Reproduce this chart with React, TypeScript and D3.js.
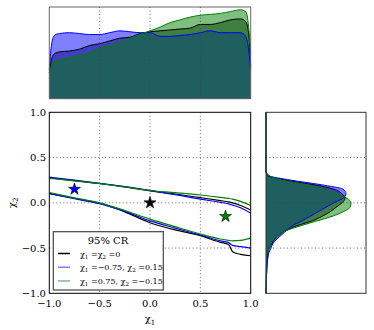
import * as d3 from "d3";

// top marginal: density of chi1 for each prior case
const xGrid = [-1, -0.98, -0.95, -0.9, -0.8, -0.7, -0.6, -0.5, -0.4, -0.3, -0.2, -0.1, 0, 0.1, 0.2, 0.3, 0.4, 0.5, 0.6, 0.7, 0.8, 0.9, 0.95, 0.98, 1];
const topBlack = [0.28, 0.42, 0.49, 0.51, 0.52, 0.54, 0.58, 0.6, 0.63, 0.66, 0.67, 0.71, 0.73, 0.74, 0.75, 0.76, 0.77, 0.81, 0.81, 0.83, 0.86, 0.87, 0.84, 0.71, 0.35];
const topBlue = [0.31, 0.57, 0.69, 0.71, 0.72, 0.71, 0.7, 0.7, 0.72, 0.74, 0.73, 0.72, 0.72, 0.68, 0.68, 0.69, 0.7, 0.72, 0.74, 0.72, 0.72, 0.72, 0.68, 0.53, 0.31];
const topGreen = [0.22, 0.35, 0.41, 0.42, 0.45, 0.47, 0.5, 0.55, 0.58, 0.61, 0.66, 0.7, 0.74, 0.78, 0.83, 0.86, 0.89, 0.91, 0.92, 0.93, 0.95, 0.97, 0.95, 0.78, 0.49];

// right marginal: density of chi2
const yGrid = [1, 0.35, 0.3, 0.25, 0.2, 0.15, 0.1, 0.05, 0, -0.05, -0.1, -0.15, -0.2, -0.25, -0.3, -0.35, -0.4, -0.45, -0.5, -0.55, -0.6, -0.7, -0.8, -1];
const sideBlack = [0, 0, 0.02, 0.2, 0.48, 0.68, 0.76, 0.79, 0.76, 0.7, 0.64, 0.56, 0.46, 0.32, 0.21, 0.14, 0.09, 0.06, 0.03, 0.02, 0.015, 0.01, 0.005, 0];
const sideBlue = [0, 0, 0.03, 0.25, 0.55, 0.77, 0.8, 0.77, 0.68, 0.6, 0.52, 0.44, 0.36, 0.27, 0.21, 0.16, 0.11, 0.07, 0.05, 0.03, 0.02, 0.01, 0.005, 0];
const sideGreen = [0, 0, 0.03, 0.16, 0.39, 0.59, 0.71, 0.81, 0.85, 0.84, 0.77, 0.66, 0.51, 0.36, 0.22, 0.14, 0.08, 0.05, 0.03, 0.013, 0.007, 0.003, 0, 0];

// 95% credible region boundaries (upper and lower edge)
const crX = [-1, -0.75, -0.5, -0.25, 0, 0.25, 0.5, 0.7, 0.78, 0.82, 0.9, 1];
const upBlack = [0.275, 0.245, 0.213, 0.175, 0.132, 0.097, 0.057, 0.024, 0.01, 0.0, -0.03, -0.08];
const upBlue = [0.283, 0.25, 0.215, 0.178, 0.137, 0.09, 0.04, 0.005, -0.012, -0.025, -0.055, -0.116];
const upGreen = [0.27, 0.242, 0.212, 0.175, 0.136, 0.112, 0.086, 0.06, 0.048, 0.04, 0.015, -0.03];
const loBlack = [0.105, 0.05, -0.005, -0.1, -0.22, -0.3, -0.363, -0.437, -0.46, -0.54, -0.57, -0.585];
const loBlue = [0.1, 0.045, -0.01, -0.095, -0.2, -0.28, -0.356, -0.42, -0.44, -0.47, -0.485, -0.5];
const loGreen = [0.114, 0.055, 0.0, -0.085, -0.18, -0.264, -0.345, -0.4, -0.415, -0.42, -0.415, -0.39];

// injected values (stars)
const stars = [
  { x: -0.75, y: 0.15, color: "#0000ff" },
  { x: 0, y: 0, color: "#000000" },
  { x: 0.75, y: -0.15, color: "#008000" },
];

const ticks = [-1, -0.5, 0, 0.5, 1];
const tickLabels = ["\u22121.0", "\u22120.5", "0.0", "0.5", "1.0"];
const gridTicks = [-0.5, 0, 0.5];

type Part = [string, boolean];
const legendItems: { color: string; parts: Part[] }[] = [
  { color: "#000000", parts: [["\u03c7", false], ["1", true], [" =\u03c7", false], ["2", true], [" =0", false]] },
  { color: "#8080ff", parts: [["\u03c7", false], ["1", true], [" =\u22120.75, \u03c7", false], ["2", true], [" =0.15", false]] },
  { color: "#80c080", parts: [["\u03c7", false], ["1", true], [" =0.75, \u03c7", false], ["2", true], [" =\u22120.15", false]] },
];

const FONT = "DejaVu Serif";
const GRID = { stroke: "#444", strokeWidth: 0.8, strokeDasharray: "1 2.5" };

const Mixed = ({ parts, size }: { parts: Part[]; size: number }) => (
  <>
    {parts.map(([t, sub], i) => {
      const prevSub = i > 0 && parts[i - 1][1];
      const dy = sub ? size * 0.25 : prevSub ? -size * 0.25 : 0;
      return (
        <tspan key={i} dy={dy} fontSize={sub ? size * 0.7 : size}>
          {t}
        </tspan>
      );
    })}
  </>
);

export default function App() {
  const L = 49.3, R = 250.7, T = 112.3, B = 293.3;
  const x = d3.scaleLinear().domain([-1, 1]).range([L, R]);
  const y = d3.scaleLinear().domain([-1, 1]).range([B, T]);
  const topY = d3.scaleLinear().domain([0, 1]).range([98.7, 7]);
  const sideX = d3.scaleLinear().domain([0, 1]).range([266, 366]);

  const topArea = (vals: number[]) =>
    d3.area<number>().x((_, i) => x(xGrid[i])).y0(topY(0)).y1((d) => topY(d)).curve(d3.curveMonotoneX)(vals) || "";
  const topLine = (vals: number[]) =>
    d3.line<number>().x((_, i) => x(xGrid[i])).y((d) => topY(d)).curve(d3.curveMonotoneX)(vals) || "";
  const sideArea = (vals: number[]) =>
    d3.area<number>().y((_, i) => y(yGrid[i])).x0(sideX(0)).x1((d) => sideX(d)).curve(d3.curveMonotoneY)(vals) || "";
  const sideLine = (vals: number[]) =>
    d3.line<number>().y((_, i) => y(yGrid[i])).x((d) => sideX(d)).curve(d3.curveMonotoneY)(vals) || "";
  const crLine = (vals: number[]) =>
    d3.line<number>().x((_, i) => x(crX[i])).y((d) => y(d)).curve(d3.curveMonotoneX)(vals) || "";

  const star = d3.symbol(d3.symbolStar, 44)() || "";

  const series = [
    { color: "#000000", top: topBlack, side: sideBlack, up: upBlack, lo: loBlack },
    { color: "#0000ff", top: topBlue, side: sideBlue, up: upBlue, lo: loBlue },
    { color: "#008000", top: topGreen, side: sideGreen, up: upGreen, lo: loGreen },
  ];

  return (
    <svg width={374} height={330} style={{ position: "absolute", left: 0, top: 0, background: "#fff" }} fontFamily={FONT}>
      <defs>
        <clipPath id="main">
          <rect x={L} y={T} width={R - L} height={B - T} />
        </clipPath>
      </defs>

      {/* top marginal */}
      <g>
        {series.map((s) => (
          <path key={s.color} d={topArea(s.top)} fill={s.color} fillOpacity={0.5} />
        ))}
        {series.map((s) => (
          <path key={s.color} d={topLine(s.top)} fill="none" stroke={s.color} strokeWidth={1} />
        ))}
        {gridTicks.map((t) => (
          <line key={t} x1={x(t)} x2={x(t)} y1={7} y2={98.7} {...GRID} />
        ))}
        <rect x={L} y={7} width={R - L} height={91.7} fill="none" stroke="#666" strokeWidth={1} />
      </g>

      {/* right marginal */}
      <g>
        {series.map((s) => (
          <path key={s.color} d={sideArea(s.side)} fill={s.color} fillOpacity={0.5} />
        ))}
        {series.map((s) => (
          <path key={s.color} d={sideLine(s.side)} fill="none" stroke={s.color} strokeWidth={1} />
        ))}
        {gridTicks.map((t) => (
          <line key={t} x1={266} x2={366} y1={y(t)} y2={y(t)} {...GRID} />
        ))}
        <rect x={266} y={T} width={100} height={B - T} fill="none" stroke="#333" strokeWidth={1} />
      </g>

      {/* main panel */}
      <g>
        {gridTicks.map((t) => (
          <line key={"v" + t} x1={x(t)} x2={x(t)} y1={T} y2={B} {...GRID} />
        ))}
        {gridTicks.map((t) => (
          <line key={"h" + t} x1={L} x2={R} y1={y(t)} y2={y(t)} {...GRID} />
        ))}
        <g clipPath="url(#main)">
          {series.map((s) => (
            <g key={s.color}>
              <path d={crLine(s.up)} fill="none" stroke={s.color} strokeWidth={1.2} />
              <path d={crLine(s.lo)} fill="none" stroke={s.color} strokeWidth={1.2} />
            </g>
          ))}
        </g>
        {stars.map((s) => (
          <path key={s.color} d={star} transform={`translate(${x(s.x)},${y(s.y)})`} fill={s.color} stroke="#000" strokeWidth={0.6} />
        ))}

        {/* legend */}
        <g>
          <rect x={53.3} y={231.7} width={110} height={58.3} fill="#fff" stroke="#444" strokeWidth={1.2} />
          <text x={108} y={243.5} textAnchor="middle" fontSize={10}>
            95% CR
          </text>
          {legendItems.map((item, i) => (
            <g key={i} transform={`translate(0,${253.5 + i * 13.7})`}>
              <line x1={58} x2={70} y1={0} y2={0} stroke={item.color} strokeWidth={1.5} />
              <text x={80} y={3} fontSize={8}>
                <Mixed parts={item.parts} size={8} />
              </text>
            </g>
          ))}
        </g>

        <rect x={L} y={T} width={R - L} height={B - T} fill="none" stroke="#000" strokeWidth={1} />

        {ticks.map((t, i) => (
          <text key={"x" + t} x={x(t)} y={307} textAnchor="middle" fontSize={10}>
            {tickLabels[i]}
          </text>
        ))}
        {ticks.map((t, i) => (
          <text key={"y" + t} x={46} y={y(t) + 3.5} textAnchor="end" fontSize={10}>
            {tickLabels[i]}
          </text>
        ))}
        <text x={(L + R) / 2} y={322} textAnchor="middle" fontSize={10}>
          <Mixed parts={[["\u03c7", false], ["1", true]]} size={10} />
        </text>
        <text transform={`translate(15,${(T + B) / 2}) rotate(-90)`} textAnchor="middle" fontSize={10}>
          <Mixed parts={[["\u03c7", false], ["2", true]]} size={10} />
        </text>
      </g>
    </svg>
  );
}
